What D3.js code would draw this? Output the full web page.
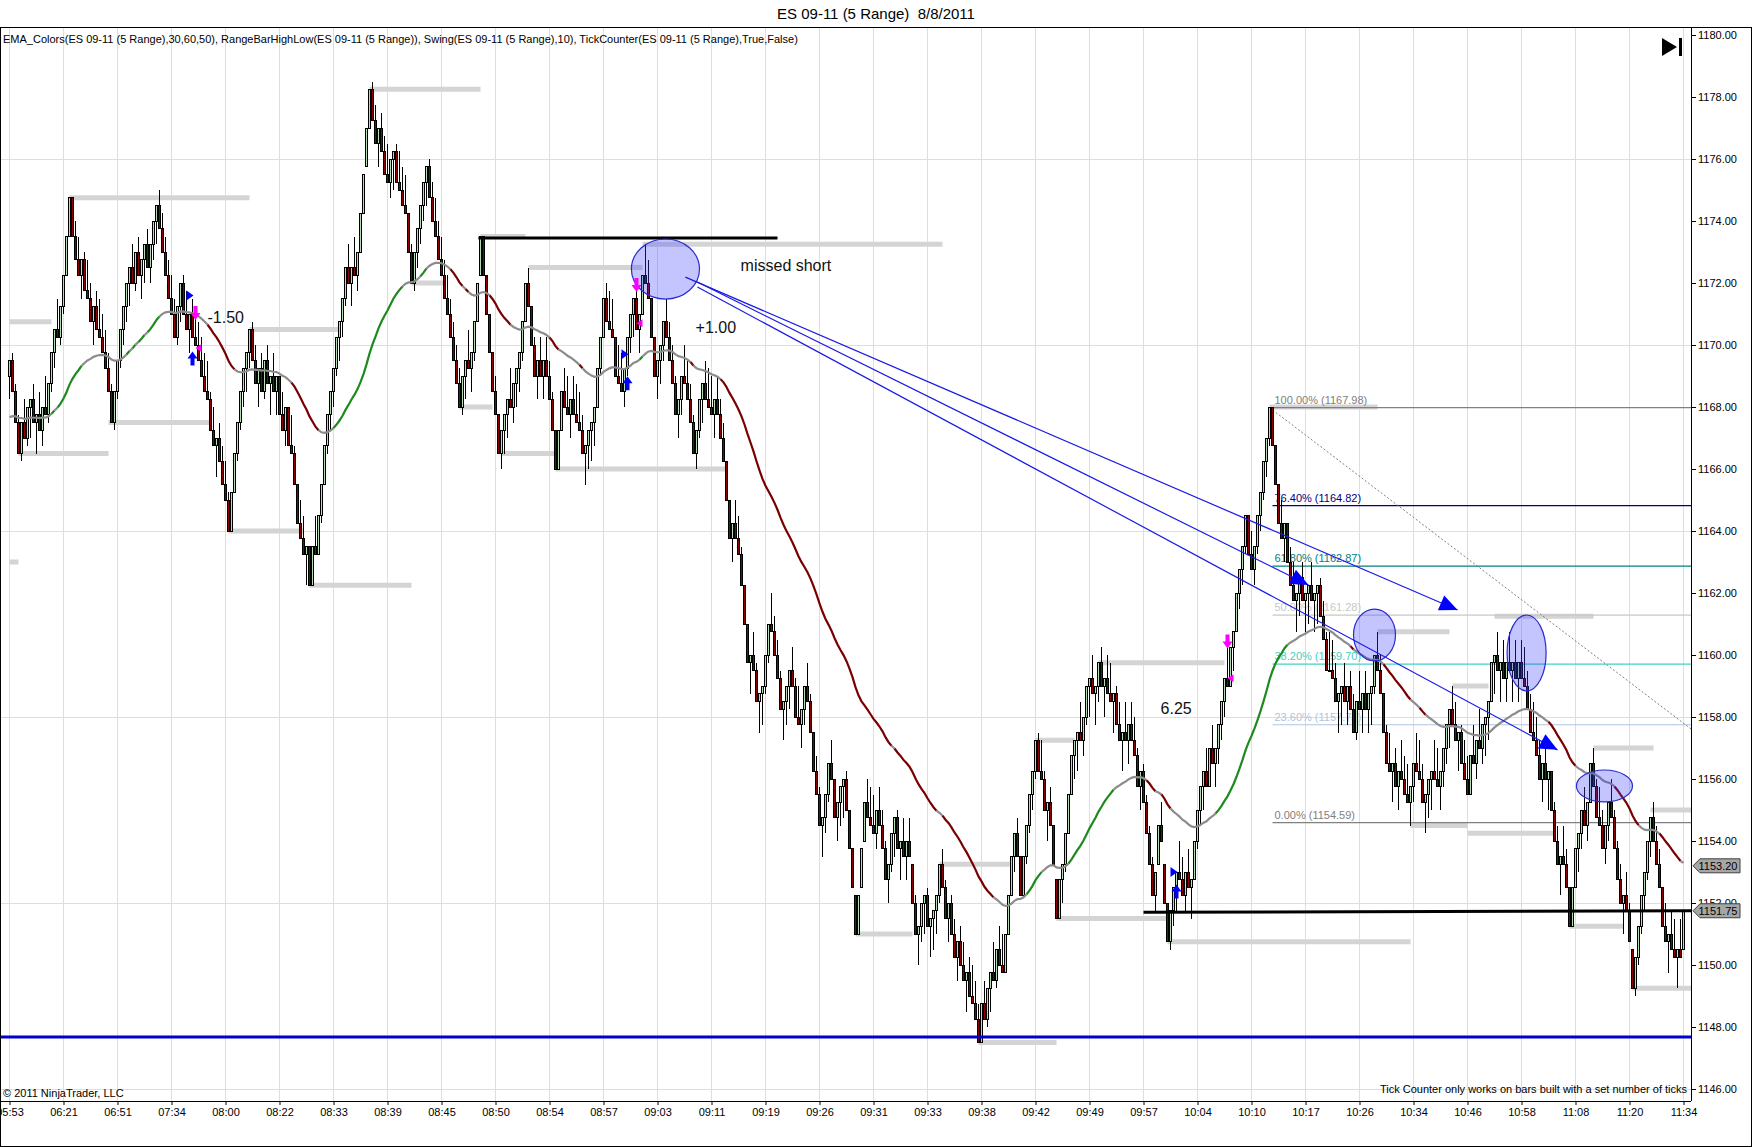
<!DOCTYPE html>
<meta charset="utf-8">
<script src="https://d3js.org/d3.v7.min.js"></script>
<style type="text/css">
    body { margin: 0; background: #fff; }
    text { font-family: "Liberation Sans", Arial, sans-serif; }
</style>
<body>
<script type="text/javascript">
// ---- data ----
var closes = [
    1169.5,1168.5,1167.5,1166.5,1167.5,1167.0,1168.0,1168.25,1167.5,1167.75,
    1167.25,1168.0,1167.75,1168.75,1169.75,1170.5,1170.25,1171.25,1172.25,1173.5,
    1174.75,1173.5,1172.75,1172.25,1172.75,1171.75,1171.5,1170.75,1171.25,1170.5,
    1170.25,1169.75,1169.25,1168.5,1167.5,1168.5,1169.5,1170.5,1171.25,1172.0,
    1172.5,1172.0,1173.0,1172.25,1172.75,1173.25,1172.5,1173.25,1174.0,1174.5,
    1173.75,1173.0,1172.25,1171.5,1171.0,1170.25,1171.25,1172.0,1171.0,1170.5,
    1171.0,1170.25,1170.0,1169.5,1169.0,1168.5,1168.25,1167.25,1166.75,1167.0,
    1166.25,1165.5,1165.0,1164.0,1165.25,1166.5,1167.5,1168.5,1169.25,1169.75,
    1170.5,1169.5,1168.75,1169.25,1168.5,1169.5,1168.75,1169.0,1168.5,1169.0,
    1167.75,1167.25,1168.0,1166.75,1166.5,1165.5,1164.25,1163.75,1163.25,1163.5,
    1162.25,1163.5,1163.25,1164.5,1165.5,1166.75,1167.75,1168.5,1169.25,1170.25,
    1170.75,1171.5,1172.5,1172.0,1172.5,1172.25,1173.0,1174.25,1175.5,1177.0,
    1178.25,1177.25,1176.5,1177.0,1176.25,1175.5,1175.25,1176.0,1176.25,1175.25,
    1175.0,1174.5,1174.25,1173.0,1172.0,1173.0,1173.75,1174.5,1175.25,1175.75,
    1174.75,1174.0,1173.5,1172.75,1172.25,1171.5,1171.0,1170.25,1169.5,1168.75,
    1168.0,1169.0,1169.5,1169.25,1169.75,1170.75,1172.0,1173.5,1172.25,1171.0,
    1169.75,1168.5,1167.75,1166.5,1167.25,1167.75,1168.25,1168.0,1168.75,1169.25,
    1169.75,1170.75,1172.0,1171.25,1170.0,1169.0,1169.5,1169.0,1169.5,1169.0,
    1168.25,1167.25,1166.0,1167.25,1168.5,1168.0,1167.75,1168.25,1167.75,1167.5,
    1167.25,1166.5,1166.75,1167.25,1167.5,1168.0,1169.25,1170.25,1171.5,1170.75,
    1170.5,1170.25,1169.0,1168.75,1168.5,1169.25,1170.25,1171.0,1171.5,1170.5,
    1171.0,1172.25,1172.0,1171.5,1170.25,1169.0,1169.5,1170.0,1170.75,1170.25,
    1169.5,1168.75,1167.75,1168.25,1169.0,1168.75,1168.25,1167.5,1166.5,1167.25,
    1168.25,1168.75,1168.25,1168.0,1167.75,1168.25,1167.75,1167.0,1166.25,1165.0,
    1163.75,1164.25,1163.75,1163.25,1162.25,1161.0,1159.75,1160.0,1159.5,1158.5,
    1158.75,1159.0,1160.0,1161.0,1160.75,1160.0,1159.25,1158.25,1158.5,1159.0,
    1159.5,1159.0,1158.0,1157.75,1158.25,1159.0,1158.5,1157.5,1156.25,1155.5,
    1154.5,1154.75,1155.5,1156.5,1156.0,1154.75,1155.25,1155.75,1156.0,1155.0,
    1153.75,1152.5,1151.0,1152.25,1153.75,1155.25,1154.75,1154.5,1154.25,1155.0,
    1154.5,1153.75,1152.75,1153.25,1154.25,1154.75,1153.75,1154.0,1153.5,1154.0,
    1153.5,1152.0,1151.0,1151.25,1152.0,1152.25,1151.25,1151.5,1151.75,1152.25,
    1153.25,1152.5,1151.5,1152.0,1151.0,1150.25,1150.75,1150.0,1149.5,1149.75,
    1149.0,1148.75,1148.25,1147.5,1148.75,1148.25,1149.25,1149.75,1149.5,1150.5,
    1150.0,1149.75,1151.0,1152.25,1153.5,1154.25,1153.5,1152.25,1153.5,1154.5,
    1155.5,1156.25,1157.25,1156.25,1156.0,1155.0,1155.25,1154.5,1153.25,1151.5,
    1152.75,1153.25,1154.25,1155.5,1156.75,1157.25,1157.5,1157.25,1158.0,1159.0,
    1159.25,1158.75,1159.0,1159.75,1159.0,1159.25,1158.75,1158.5,1158.75,1157.75,
    1157.25,1157.5,1157.25,1157.75,1157.25,1156.75,1155.75,1156.25,1155.25,1154.25,
    1153.25,1152.25,1153.0,1154.5,1154.0,1152.0,1150.75,1151.75,1152.5,1153.0,
    1152.75,1152.25,1153.0,1152.5,1152.75,1154.0,1155.0,1155.75,1156.25,1155.75,
    1157.0,1156.5,1157.0,1157.75,1158.5,1159.25,1159.0,1160.25,1160.75,1162.0,
    1162.75,1163.5,1164.5,1163.25,1162.75,1163.5,1164.5,1165.25,1166.25,1167.0,
    1168.0,1166.75,1165.5,1164.25,1163.75,1164.25,1163.0,1162.25,1161.75,1162.0,
    1162.5,1161.75,1162.0,1162.25,1161.75,1162.0,1162.25,1161.25,1160.5,1159.5,
    1159.5,1159.25,1158.5,1158.75,1159.0,1158.5,1159.0,1158.25,1157.5,1158.5,
    1158.25,1158.75,1158.25,1158.75,1159.0,1160.0,1159.5,1158.75,1157.5,1156.5,
    1156.25,1156.5,1155.75,1156.25,1156.0,1155.5,1155.25,1155.75,1156.5,1156.25,
    1156.0,1155.25,1155.5,1156.0,1156.25,1156.0,1155.75,1156.25,1157.0,1157.75,
    1158.25,1157.75,1157.25,1157.5,1156.5,1156.0,1155.5,1156.75,1156.5,1157.25,
    1157.0,1157.75,1158.0,1158.5,1159.75,1160.0,1159.5,1159.75,1159.25,1159.75,
    1159.5,1159.75,1159.25,1159.75,1159.25,1159.0,1158.25,1157.5,1157.25,1156.75,
    1156.0,1156.5,1156.0,1156.25,1155.0,1154.0,1153.25,1153.5,1153.25,1152.5,
    1151.25,1152.5,1153.75,1154.25,1155.0,1154.5,1155.25,1156.5,1155.75,1154.75,
    1154.5,1153.75,1154.5,1155.25,1154.75,1153.75,1152.75,1152.0,1152.25,1151.75,
    1150.75,1149.25,1150.25,1151.25,1152.25,1153.0,1154.0,1154.75,1154.0,1153.25,
    1152.5,1151.25,1150.75,1151.0,1150.5,1150.25,1150.5,1150.25,1151.75
];
var firstOpen = 1169.0;
var barRange = 1.25;          // 5 ticks range bars
var emaPeriod = 50;
var emaStart = 1167.6;

var timeLabels = ["05:53","06:21","06:51","07:34","08:00","08:22","08:33","08:39","08:45","08:50",
    "08:54","08:57","09:03","09:11","09:19","09:26","09:31","09:33","09:38","09:42","09:49",
    "09:57","10:04","10:10","10:17","10:26","10:34","10:46","10:58","11:08","11:20","11:34"];
var barsPerLabel = 18;

var priceTicks = d3.range(1146, 1181, 2);
var gridPrices = d3.range(1146, 1181, 6);

// swing high / low levels: [first bar, last bar, price]
var swingLevels = [
    [0, 14, 1170.75], [0, 3, 1163.0], [3, 33, 1166.5], [20, 80, 1174.75], [33, 67, 1167.5],
    [73, 98, 1164.0], [80, 110, 1170.5], [100, 134, 1162.25], [120, 157, 1178.25],
    [134, 145, 1172.0], [150, 161, 1168.0], [157, 172, 1173.5], [164, 182, 1166.5],
    [173, 211, 1172.5], [182, 239, 1166.0], [211, 311, 1173.25], [282, 301, 1151.0],
    [310, 334, 1153.25], [323, 349, 1147.5], [342, 355, 1157.25], [349, 386, 1151.5],
    [363, 405, 1159.75], [386, 467, 1150.75], [420, 456, 1168.0], [456, 480, 1160.75],
    [467, 486, 1154.5], [481, 493, 1159.0], [486, 515, 1154.25], [495, 528, 1161.25],
    [520, 538, 1151.25], [528, 548, 1157.0], [541, 561, 1149.25], [547, 561, 1155.0]
];

// fibonacci retracement
var fibHigh = 1167.98, fibLow = 1154.59, fibStartBar = 420;
var fibRatios = [1, 0.764, 0.618, 0.5, 0.382, 0.236, 0];
var fibColors = ["#808080", "#000080", "#008080", "#c8c8c8", "#40d0c4", "#b0c4de", "#808080"];
var fibDiagEnd = [560.7, 1157.6];

// drawn lines: [bar a, price a, bar b, price b]
var blackLines = [[156.3, 1173.45, 256, 1173.45], [378, 1151.7, 561, 1151.75]];
var blueLevel = 1147.68;
var trendLines = [
    [225.3, 1172.19, 482.7, 1161.45],
    [229.3, 1172.03, 433.0, 1162.26],
    [229.3, 1171.87, 516.0, 1156.94]
];
// ellipses: [bar from, bar to, price top, price bottom]
var ellipses = [
    [207.3, 230.0, 1173.42, 1171.48],
    [448.0, 462.0, 1161.48, 1159.81],
    [499.2, 512.2, 1161.29, 1158.84],
    [522.3, 541.0, 1156.29, 1155.26]
];
var markers = [
    ["blueTri", 60, 1171.6], ["pinkDown", 62, 1171.0], ["blueUp", 61, 1169.6], ["pinkTri", 63, 1169.9],
    ["blueTri", 205, 1169.7], ["blueUp", 206, 1168.8], ["pinkDown", 209, 1171.9], ["pinkTri", 210, 1170.7],
    ["blueTri", 388, 1153.0], ["blueUp", 389, 1152.4], ["pinkDown", 406, 1160.4], ["pinkTri", 407, 1159.25]
];
var notes = [["missed short", 243.7, 1172.4], ["+1.00", 228.7, 1170.4], ["-1.50", 66, 1170.7], ["6.25", 383.7, 1158.1]];
var priceTags = [["1153.20", 1153.2], ["1151.75", 1151.75]];

// ---- layout ----
var W = 1752, H = 1147;
var plotRight = 1691, plotTop = 27, plotBottom = 1101;

var svg = d3.select("body").append("svg")
    .attr("width", W)
    .attr("height", H);

var x = d3.scaleLinear().domain([0, 558]).range([9.5, 1683.5]);
var y = d3.scaleLinear().domain([1146, 1180]).range([1089, 35]);

svg.append("defs").append("clipPath").attr("id", "plotclip")
    .append("rect").attr("x", 0).attr("y", plotTop).attr("width", plotRight).attr("height", plotBottom - plotTop);

// title + indicator caption
svg.append("text").attr("x", W / 2).attr("y", 19).attr("text-anchor", "middle")
    .style("font-size", "15px").style("white-space", "pre").text("ES 09-11 (5 Range)  8/8/2011");

var plot = svg.append("g").attr("clip-path", "url(#plotclip)");

// grid
var labelBars = timeLabels.map(function (d, i) { return i * barsPerLabel; });
plot.selectAll(".vgrid").data(labelBars).enter().append("line")
    .attr("x1", function (d) { return x(d); }).attr("x2", function (d) { return x(d); })
    .attr("y1", plotTop).attr("y2", plotBottom)
    .style("stroke", "#dedede").style("stroke-width", 1);
plot.selectAll(".hgrid").data(gridPrices).enter().append("line")
    .attr("x1", 0).attr("x2", plotRight)
    .attr("y1", function (d) { return y(d) + 0.5; }).attr("y2", function (d) { return y(d) + 0.5; })
    .style("stroke", "#dedede").style("stroke-width", 1);

// swing levels
plot.selectAll(".swing").data(swingLevels).enter().append("line")
    .attr("x1", function (d) { return x(d[0]); }).attr("x2", function (d) { return x(d[1]); })
    .attr("y1", function (d) { return y(d[2]); }).attr("y2", function (d) { return y(d[2]); })
    .style("stroke", "#d4d4d4").style("stroke-width", 5);

// fib retracement
var fibs = fibRatios.map(function (r, i) {
    return { r: r, v: fibLow + (fibHigh - fibLow) * r, c: fibColors[i] };
});
plot.selectAll(".fib").data(fibs).enter().append("line")
    .attr("x1", x(fibStartBar) + 3).attr("x2", plotRight)
    .attr("y1", function (d) { return y(d.v); }).attr("y2", function (d) { return y(d.v); })
    .style("stroke", function (d) { return d.c; }).style("stroke-width", 1.2);
plot.selectAll(".fibtxt").data(fibs).enter().append("text")
    .attr("x", x(fibStartBar) + 5)
    .attr("y", function (d) { return y(d.v) - 4; })
    .style("font-size", "11px")
    .style("fill", function (d) { return d.c; })
    .text(function (d) { return (d.r * 100).toFixed(2) + "% (" + d.v.toFixed(2) + ")"; });
plot.append("line")
    .attr("x1", x(fibStartBar)).attr("y1", y(fibHigh))
    .attr("x2", x(fibDiagEnd[0])).attr("y2", y(fibDiagEnd[1]))
    .style("stroke", "#808080").style("stroke-width", 1).style("stroke-dasharray", "2,2");

// range bars
var dir = 1;
var bars = closes.map(function (c, i) {
    var p = i ? closes[i - 1] : firstOpen;
    if (c > p) dir = 1; else if (c < p) dir = -1;
    var hi = dir > 0 ? c : c + barRange;
    var lo = dir > 0 ? c - barRange : c;
    var o = Math.max(lo, Math.min(hi, p));
    return { i: i, o: o, h: hi, l: lo, c: c, up: dir > 0 };
});

var candle = plot.append("g").style("shape-rendering", "crispEdges")
    .selectAll(".bar").data(bars).enter().append("g");
candle.append("line")
    .attr("x1", function (d) { return x(d.i); }).attr("x2", function (d) { return x(d.i); })
    .attr("y1", function (d) { return y(d.h); }).attr("y2", function (d) { return y(d.l); })
    .style("stroke", "#000").style("stroke-width", 1);
candle.append("rect")
    .attr("x", function (d) { return x(d.i) - 1; })
    .attr("width", 2)
    .attr("y", function (d) { return y(Math.max(d.o, d.c)); })
    .attr("height", function (d) { return Math.max(1, Math.abs(y(d.o) - y(d.c))); })
    .style("fill", function (d) { return d.up ? "#b4deb4" : "#8b0000"; })
    .style("stroke", "#000").style("stroke-width", 1);

// EMA coloured by slope
var alpha = 2 / (emaPeriod + 1), e = emaStart;
var ema = closes.map(function (c) { e = e + alpha * (c - e); return e; });
var runs = [], cur = null;
for (var i = 1; i < ema.length; i++) {
    var s = ema[i] - ema[i - 1];
    var col = s > 0.1 ? "#1e8a1e" : (s < -0.1 ? "#7a0000" : "#8c8c8c");
    if (!cur || cur.col !== col) {
        cur = { col: col, pts: [{ i: i - 1, v: ema[i - 1] }] };
        runs.push(cur);
    }
    cur.pts.push({ i: i, v: ema[i] });
}
var emaLine = d3.line().x(function (d) { return x(d.i); }).y(function (d) { return y(d.v); });
plot.selectAll(".ema").data(runs).enter().append("path")
    .attr("d", function (d) { return emaLine(d.pts); })
    .style("fill", "none")
    .style("stroke", function (d) { return d.col; })
    .style("stroke-width", 2.2);

// black lines and blue level
plot.selectAll(".blk").data(blackLines).enter().append("line")
    .attr("x1", function (d) { return x(d[0]); }).attr("y1", function (d) { return y(d[1]); })
    .attr("x2", function (d) { return x(d[2]); }).attr("y2", function (d) { return y(d[3]); })
    .style("stroke", "#000").style("stroke-width", 3);
plot.append("line")
    .attr("x1", 0).attr("x2", plotRight).attr("y1", y(blueLevel)).attr("y2", y(blueLevel))
    .style("stroke", "#0000cc").style("stroke-width", 3);

// ellipses
plot.selectAll(".ell").data(ellipses).enter().append("ellipse")
    .attr("cx", function (d) { return (x(d[0]) + x(d[1])) / 2; })
    .attr("cy", function (d) { return (y(d[2]) + y(d[3])) / 2; })
    .attr("rx", function (d) { return (x(d[1]) - x(d[0])) / 2; })
    .attr("ry", function (d) { return (y(d[3]) - y(d[2])) / 2; })
    .style("fill", "rgba(60,60,255,0.3)")
    .style("stroke", "#2a2ad0").style("stroke-width", 1.2);

// trend lines with arrow heads
plot.selectAll(".trend").data(trendLines).enter().append("line")
    .attr("x1", function (d) { return x(d[0]); }).attr("y1", function (d) { return y(d[1]); })
    .attr("x2", function (d) { return x(d[2]); }).attr("y2", function (d) { return y(d[3]); })
    .style("stroke", "#1a1ae6").style("stroke-width", 1.2);
plot.selectAll(".head").data(trendLines).enter().append("path")
    .attr("d", function (d) {
        var x1 = x(d[0]), y1 = y(d[1]), x2 = x(d[2]), y2 = y(d[3]);
        var a = Math.atan2(y2 - y1, x2 - x1), L = 18, w = 8;
        var bx = x2 - L * Math.cos(a), by = y2 - L * Math.sin(a);
        return "M" + x2 + "," + y2 +
            "L" + (bx + w * Math.sin(a)) + "," + (by - w * Math.cos(a)) +
            "L" + (bx - w * Math.sin(a)) + "," + (by + w * Math.cos(a)) + "Z";
    })
    .style("fill", "#0000ff");

// trade markers
var shapes = {
    pinkDown: ["M-2,-8h4v7h3l-5,7l-5,-7h3z", "#ff00ff"],
    blueUp: ["M-2,8h4v-7h3l-5,-7l-5,7h3z", "#0000ff"],
    blueTri: ["M-3,-5L4,0L-3,5z", "#0000ff"],
    pinkTri: ["M3,-4L-3,0L3,4z", "#ff00ff"]
};
plot.selectAll(".mk").data(markers).enter().append("path")
    .attr("transform", function (d) { return "translate(" + x(d[1]) + "," + y(d[2]) + ")"; })
    .attr("d", function (d) { return shapes[d[0]][0]; })
    .style("fill", function (d) { return shapes[d[0]][1]; });

// notes
plot.selectAll(".note").data(notes).enter().append("text")
    .attr("x", function (d) { return x(d[1]); })
    .attr("y", function (d) { return y(d[2]); })
    .style("font-size", "16px").style("fill", "#111")
    .text(function (d) { return d[0]; });

// captions inside plot
svg.append("text").attr("x", 3).attr("y", 43).style("font-size", "11px")
    .text("EMA_Colors(ES 09-11 (5 Range),30,60,50), RangeBarHighLow(ES 09-11 (5 Range)), Swing(ES 09-11 (5 Range),10), TickCounter(ES 09-11 (5 Range),True,False)");
svg.append("text").attr("x", 3).attr("y", 1097).style("font-size", "11px")
    .text("\u00a9 2011 NinjaTrader, LLC");
svg.append("text").attr("x", 1687).attr("y", 1093).attr("text-anchor", "end").style("font-size", "11px")
    .text("Tick Counter only works on bars built with a set number of ticks");

// go-to-end icon
svg.append("path").attr("d", "M1662,38L1677,47L1662,56Z").style("fill", "#000");
svg.append("rect").attr("x", 1679).attr("y", 38).attr("width", 3).attr("height", 18).style("fill", "#000");

// axes
var yAxis = svg.append("g").attr("transform", "translate(" + plotRight + ",0)")
    .call(d3.axisRight(y).tickValues(priceTicks).tickFormat(d3.format(".2f")).tickSize(5).tickPadding(2));
yAxis.select(".domain").remove();
yAxis.selectAll("text").style("font-size", "11px").style("font-family", "Liberation Sans, Arial, sans-serif");

var xAxis = svg.append("g").attr("transform", "translate(0," + plotBottom + ")")
    .call(d3.axisBottom(x).tickValues(labelBars)
        .tickFormat(function (d, i) { return timeLabels[i]; }).tickSize(4).tickPadding(3));
xAxis.select(".domain").remove();
xAxis.selectAll("text").style("font-size", "11px").style("font-family", "Liberation Sans, Arial, sans-serif");

// price tags on the axis
var tag = svg.selectAll(".tag").data(priceTags).enter().append("g")
    .attr("transform", function (d) { return "translate(0," + y(d[1]) + ")"; });
tag.append("path")
    .attr("d", "M" + (plotRight + 2) + ",0L" + (plotRight + 9) + ",-7H1740V7H" + (plotRight + 9) + "Z")
    .style("fill", "#a6a6a6").style("stroke", "#404040").style("stroke-width", 1);
tag.append("text").attr("x", 1718).attr("y", 4).attr("text-anchor", "middle")
    .style("font-size", "11px").text(function (d) { return d[0]; });

// frame
svg.append("rect").attr("x", 0.5).attr("y", plotTop + 0.5).attr("width", W - 1).attr("height", H - plotTop - 1)
    .style("fill", "none").style("stroke", "#000").style("stroke-width", 1);
svg.append("line").attr("x1", plotRight + 0.5).attr("x2", plotRight + 0.5).attr("y1", plotTop).attr("y2", plotBottom)
    .style("stroke", "#000");
svg.append("line").attr("x1", 0).attr("x2", plotRight).attr("y1", plotBottom + 0.5).attr("y2", plotBottom + 0.5)
    .style("stroke", "#000");
</script>
</body>
